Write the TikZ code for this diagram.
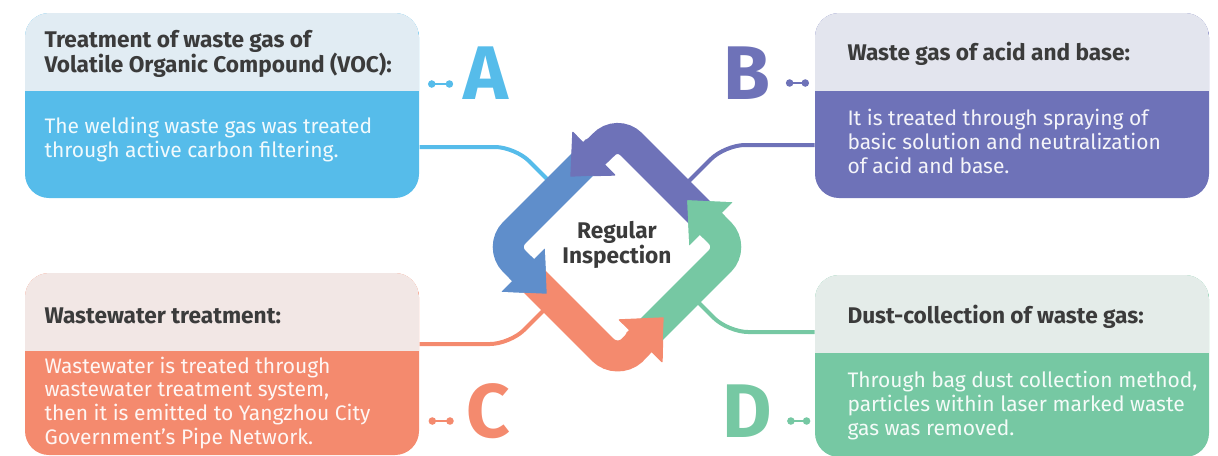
\documentclass[tikz,border=0pt]{standalone}
\usepackage{fontspec}
\setmainfont{Fira Sans}
\usetikzlibrary{arrows.meta,calc}

\definecolor{hdA}{HTML}{E1ECF3}
\definecolor{bdA}{HTML}{56BCEA}
\definecolor{hdB}{HTML}{E3E5EE}
\definecolor{bdB}{HTML}{6E72B8}
\definecolor{hdC}{HTML}{F2E7E5}
\definecolor{bdC}{HTML}{F48A6E}
\definecolor{hdD}{HTML}{E4ECE9}
\definecolor{bdD}{HTML}{76C8A3}
\definecolor{arA}{HTML}{5F8ECB}
\definecolor{arB}{HTML}{6E72B8}
\definecolor{arC}{HTML}{F48A6E}
\definecolor{arD}{HTML}{76C8A3}
\definecolor{txt}{HTML}{3B3B3B}

\tikzset{every picture/.style={line width=0.75pt}}
\tikzset{
  cardbox/.style={rectangle, rounded corners=18pt, inner sep=0pt, minimum width=295.5pt, fill=bd#1,
    path picture={\fill[hd#1, sharp corners] (path picture bounding box.north west) rectangle ([yshift=-58.5pt]path picture bounding box.north east);}},
  headtext/.style={anchor=base west, inner sep=0pt, align=left, text=txt, font=\fontsize{17}{18.75}\selectfont\bfseries},
  bodytext/.style={anchor=base west, inner sep=0pt, align=left, text=white!92!bd#1, font=\fontsize{15.75}{17.7}\selectfont},
  bigletter/.style={inner sep=0pt, text=bd#1, font=\fontsize{57}{57}\selectfont\bfseries},
  linkline/.style={draw=bd#1, line width=3pt, rounded corners=15pt},
  bellline/.style={draw=bd#1, line width=1.9pt, {Circle[length=5.5pt]}-{Circle[length=5.5pt]}},
  cycleband/.style={draw=ar#1, line width=23.25pt, rounded corners=15pt, -{Triangle[length=25pt,width=44pt]}},
}

\begin{document}
\begin{tikzpicture}[x=0.75pt,y=0.75pt,yscale=-1,xscale=1]
\useasboundingbox (0,0) rectangle (1218,455);

%Shape: Cards
\node[cardbox=A, minimum height=138.75pt] (cardA) at (222,105.5) {};
\node[cardbox=B, minimum height=138.75pt] (cardB) at (1012,105.5) {};
\node[cardbox=C, minimum height=136.5pt] (cardC) at (222,364) {};
\node[cardbox=D, minimum height=136.5pt] (cardD) at (1012,366) {};

% Text Node (anchored at the baseline of the last line)
\node[headtext] (headA) at (44,72) {Treatment of waste gas of\\Volatile Organic Compound (VOC):};
\node[bodytext=A] (bodyA) at (44,157) {The welding waste gas was treated\\through active carbon filtering.};
\node[headtext] (headB) at (847,60) {Waste gas of acid and base:};
\node[bodytext=B] (bodyB) at (847,173) {It is treated through spraying of\\basic solution and neutralization\\of acid and base.};
\node[headtext] (headC) at (44,323) {Wastewater treatment:};
\node[bodytext=C] (bodyC) at (44,444) {Wastewater is treated through\\wastewater treatment system,\\then it is emitted to Yangzhou City\\Government’s Pipe Network.};
\node[headtext] (headD) at (847,323) {Dust-collection of waste gas:};
\node[bodytext=D] (bodyD) at (847,435) {Through bag dust collection method,\\particles within laser marked waste\\gas was removed.};

% Letters
\node[bigletter=A] (letA) at (486,73) {A};
\node[bigletter=B] (letB) at (747,73) {B};
\node[bigletter=C] (letC) at (488,411) {C};
\node[bigletter=D] (letD) at (747,411) {D};
\draw[bellline=A] (letA.west) ++(-10,11) -- ++(-25,0);
\draw[bellline=B] (letB.east) ++(15,10) -- ++(23,0);
\draw[bellline=C] (letC.west) ++(-12,10) -- ++(-25,0);
\draw[bellline=D] (letD.east) ++(15,10) -- ++(23,0);

%Curve Lines: connectors
\coordinate (endA) at (555,187);
\coordinate (endB) at (680,190);
\coordinate (endC) at (555,299);
\coordinate (endD) at (683,287);
\draw[linkline=A] (cardA.east |- 0,147) -- (515,147) -- (endA);
\draw[linkline=B] (cardB.west |- 0,145) -- (725,145) -- (endB);
\draw[linkline=C] (cardC.east |- 0,344) -- (510,344) -- (endC);
\draw[linkline=D] (cardD.west |- 0,332) -- (728,332) -- (endD);

%Shape: cycle
\coordinate (vT) at (617,130);
\coordinate (vL) at (500,247);
\coordinate (vB) at (617,364);
\coordinate (vR) at (734,247);
\draw[cycleband=B] ($(vR)!0.21!(vT)$) -- (vT) -- ($(vT)!0.40!(vL)$);
\draw[cycleband=A] ($(vT)!0.21!(vL)$) -- (vL) -- ($(vL)!0.40!(vB)$);
\draw[cycleband=C] ($(vL)!0.21!(vB)$) -- (vB) -- ($(vB)!0.40!(vR)$);
\draw[cycleband=D] ($(vB)!0.21!(vR)$) -- (vR) -- ($(vR)!0.40!(vT)$);
% heads on top
\draw[cycleband=B] ($(vT)!0.17!(vL)$) -- ($(vT)!0.40!(vL)$);
\draw[cycleband=A] ($(vL)!0.17!(vB)$) -- ($(vL)!0.40!(vB)$);
\draw[cycleband=C] ($(vB)!0.17!(vR)$) -- ($(vB)!0.40!(vR)$);
\draw[cycleband=D] ($(vR)!0.17!(vT)$) -- ($(vR)!0.40!(vT)$);

% Text Node
\node[align=center, text=txt, font=\fontsize{17}{18.75}\selectfont\bfseries] (ctr) at (617,245) {Regular\\Inspection};

\end{tikzpicture}
\end{document}
